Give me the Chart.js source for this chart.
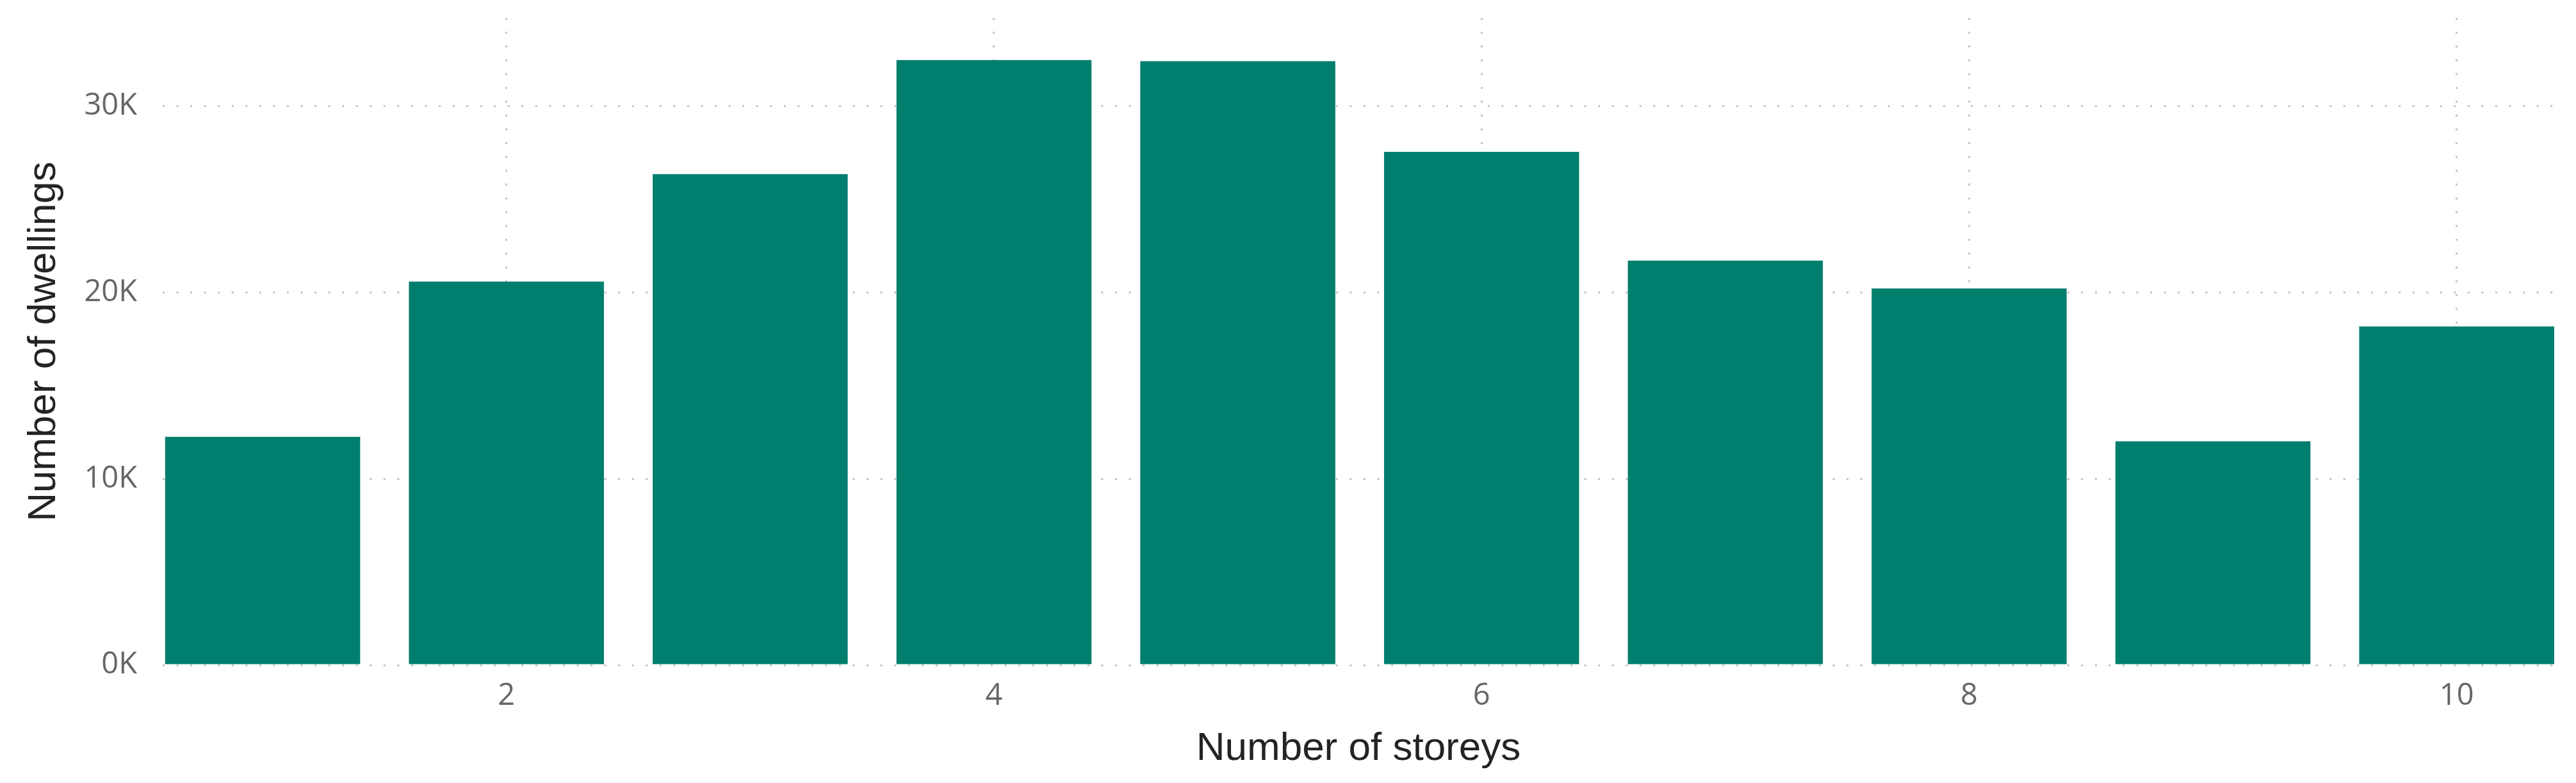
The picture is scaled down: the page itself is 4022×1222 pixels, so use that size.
<!DOCTYPE html>
<html>
<head>
<meta charset="utf-8">
<script src="https://cdn.jsdelivr.net/npm/chart.js@4/dist/chart.umd.min.js"></script>
<style>
  html, body { margin: 0; padding: 0; background: #ffffff; }
  #wrap { width: 4022px; height: 1222px; }
</style>
</head>
<body>
<div id="wrap"><canvas id="c" width="4022" height="1222"></canvas></div>
<script>
// ---- Data ----
const storeys = [1, 2, 3, 4, 5, 6, 7, 8, 9, 10];
const dwellings = [12250, 20580, 26350, 32470, 32410, 27540, 21710, 20210, 12010, 18170];

const xTickValues = [2, 4, 6, 8, 10];
const xTickLabels = ['2', '4', '6', '8', '10'];
const yTickValues = [0, 10000, 20000, 30000];
const yTickLabels = ['0K', '10K', '20K', '30K'];

const xTitle = 'Number of storeys';
const yTitle = 'Number of dwellings';

// ---- Chart ----
const points = storeys.map((s, i) => ({ x: s, y: dwellings[i] }));

const gridColor = '#c4c4c4';
const tickFont = { family: "'Open Sans', 'Segoe UI', sans-serif", size: 47 };
const titleFont = { family: "'Liberation Sans', Arial, sans-serif", size: 62 };

new Chart(document.getElementById('c'), {
  type: 'bar',
  data: {
    datasets: [{
      data: points,
      backgroundColor: '#007E6E',
      borderWidth: 0,
      barPercentage: 0.8,
      categoryPercentage: 1.0
    }]
  },
  options: {
    responsive: false,
    devicePixelRatio: 1,
    animation: false,
    layout: { padding: { top: 28, right: 34, left: 0, bottom: 0 } },
    plugins: {
      legend: { display: false },
      tooltip: { enabled: false }
    },
    scales: {
      x: {
        type: 'linear',
        min: 0.59,
        max: 10.4,
        offset: false,
        grid: { offset: false, color: gridColor, lineWidth: 3, drawTicks: false },
        border: { display: false, dash: [3, 18.55] },
        afterBuildTicks: (scale) => { scale.ticks = xTickValues.map(v => ({ value: v })); },
        afterFit: (scale) => {
          scale.height = 184;
          scale.paddingLeft = 0; scale.paddingRight = 0;
          scale.paddingTop = 0; scale.paddingBottom = 0;
        },
        ticks: {
          padding: 20,
          color: '#666666',
          font: tickFont,
          maxRotation: 0,
          callback: (value, index) => xTickLabels[index]
        },
        title: {
          display: true,
          text: xTitle,
          color: '#252423',
          font: titleFont,
          padding: { top: 0, bottom: 16 }
        }
      },
      y: {
        type: 'linear',
        min: 0,
        max: 34730,
        grid: { color: gridColor, lineWidth: 3, drawTicks: false },
        border: { display: false, dash: [3, 18.55] },
        afterBuildTicks: (scale) => { scale.ticks = yTickValues.map(v => ({ value: v })); },
        afterFit: (scale) => {
          scale.width = 254;
          scale.paddingLeft = 0; scale.paddingRight = 0;
          scale.paddingTop = 0; scale.paddingBottom = 0;
        },
        ticks: {
          padding: 40,
          color: '#666666',
          font: tickFont,
          callback: (value, index) => yTickLabels[index]
        },
        title: {
          display: true,
          text: yTitle,
          color: '#252423',
          font: titleFont,
          padding: { top: 32, bottom: 0 }
        }
      }
    }
  }
});
</script>
</body>
</html>
